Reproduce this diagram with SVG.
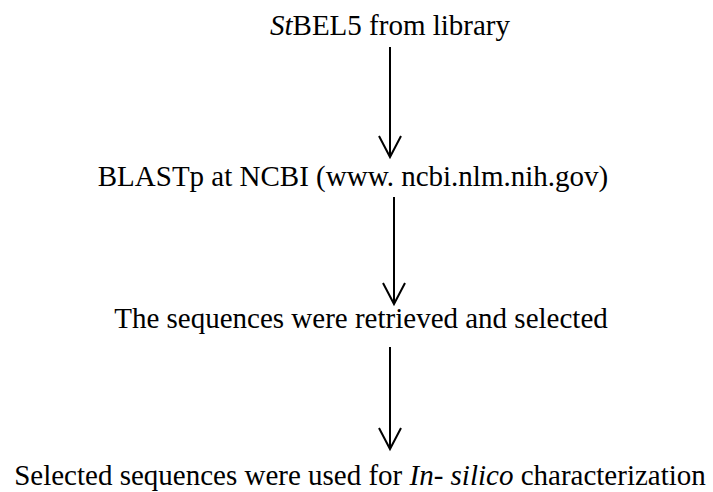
<svg xmlns="http://www.w3.org/2000/svg" width="713" height="492" viewBox="0 0 713 492">
<style>
.t{font-family:'Liberation Serif','Times New Roman','DejaVu Serif',serif;font-size:29px;fill:#000;text-anchor:middle}
.i{font-style:italic}
.c line,.c path{stroke:#000;stroke-width:2;fill:none}
</style>
<rect width="713" height="492" fill="#fff"/>
<g id="n1"><text class="t" x="390" y="35"><tspan class="i">St</tspan>BEL5 from library</text></g>
<g id="n2"><text class="t" x="353" y="186">BLASTp at NCBI (www. ncbi.nlm.nih.gov)</text></g>
<g id="n3"><text class="t" x="361" y="328">The sequences were retrieved and selected</text></g>
<g id="n4"><text class="t" x="360" y="485">Selected sequences were used for <tspan class="i">In- silico</tspan> characterization</text></g>
<g id="connectors" class="c">
<line x1="390" y1="47" x2="390" y2="157"/><path d="M379,136 L390,157 L401,136"/>
<line x1="394" y1="197" x2="394" y2="304"/><path d="M383,283 L394,304 L405,283"/>
<line x1="390" y1="347" x2="390" y2="449"/><path d="M379,428 L390,449 L401,428"/>
</g>
</svg>
